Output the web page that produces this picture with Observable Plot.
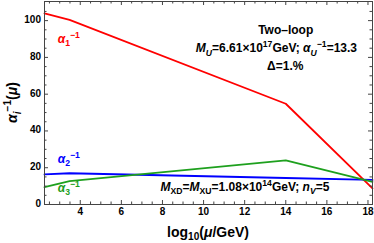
<!DOCTYPE html>
<html><head><meta charset="utf-8">
<script src="https://cdn.jsdelivr.net/npm/d3@7"></script>
<script src="https://cdn.jsdelivr.net/npm/@observablehq/plot@0.6"></script>
<style>
body{margin:0;background:#fff}
#c{position:relative;width:374px;height:243px}
svg{font-family:"Liberation Sans",Arial,sans-serif}
.ylab{position:absolute;font:bold 10px "Liberation Sans",Arial,sans-serif;color:#000;line-height:12px;text-align:right;width:30px;z-index:5}
</style>
</head><body><div id="c"></div>
<script>
// ---- data ----
const logMu     = [2.26, 3.48, 14.0, 18.22];
const alpha1Inv = [103.9, 100.4, 54.8, 8.8];
const alpha2Inv = [16.4, 17.0, 14.4, 13.4];
const alpha3Inv = [9.4, 12.7, 24.0, 12.3];
const seriesNames = ["a1", "a2", "a3"];
const seriesColors = ["#ff0000", "#0000ff", "#1ea01e"];
const xMajorTicks = [4, 6, 8, 10, 12, 14, 16, 18];
const xMinorTicks = [2.5, 3, 3.5, 4.5, 5, 5.5, 6.5, 7, 7.5, 8.5, 9, 9.5, 10.5, 11, 11.5, 12.5, 13, 13.5, 14.5, 15, 15.5, 16.5, 17, 17.5];
const yMajorTicks = [0, 20, 40, 60, 80, 100];
const yMinorTicks = [5, 10, 15, 25, 30, 35, 45, 50, 55, 65, 70, 75, 85, 90, 95, 105];

const rows = [];
[alpha1Inv, alpha2Inv, alpha3Inv].forEach((vals, i) =>
  vals.forEach((v, j) => rows.push({s: seriesNames[i], x: logMu[j], y: v})));

const W = 374, H = 243, mL = 44, mR = 2, mT = 1, mB = 39;
const innerH = H - mT - mB, innerW = W - mL - mR;
const tickCol = "#444";

const chart = Plot.plot({
  width: W, height: H,
  marginLeft: mL, marginRight: mR, marginTop: mT, marginBottom: mB,
  x: {domain: [2.26, 18.22], axis: null},
  y: {domain: [0, 110.4], axis: null},
  color: {domain: seriesNames, range: seriesColors},
  marks: [
    Plot.line(rows, {x: "x", y: "y", z: "s", stroke: "s", strokeWidth: 1.8}),
    Plot.frame({stroke: tickCol}),
    // inward ticks on all four sides
    Plot.tickX(xMajorTicks, {x: d => d, insetTop: innerH - 4, stroke: tickCol}),
    Plot.tickX(xMajorTicks, {x: d => d, insetBottom: innerH - 4, stroke: tickCol}),
    Plot.tickX(xMinorTicks, {x: d => d, insetTop: innerH - 2.5, stroke: tickCol}),
    Plot.tickX(xMinorTicks, {x: d => d, insetBottom: innerH - 2.5, stroke: tickCol}),
    Plot.tickY(yMajorTicks, {y: d => d, insetRight: innerW - 4, stroke: tickCol}),
    Plot.tickY(yMajorTicks, {y: d => d, insetLeft: innerW - 4, stroke: tickCol}),
    Plot.tickY(yMinorTicks, {y: d => d, insetRight: innerW - 2.5, stroke: tickCol}),
    Plot.tickY(yMinorTicks, {y: d => d, insetLeft: innerW - 2.5, stroke: tickCol}),
    // x tick labels
    Plot.text(xMajorTicks, {x: d => d, frameAnchor: "bottom", dy: 10, text: d => String(d), fontSize: 10, fontWeight: "bold", fill: "#000"})
  ]
});
const host = document.getElementById("c");
host.appendChild(chart);

const ns = "http://www.w3.org/2000/svg";
const sx = chart.scale("x"), sy = chart.scale("y");

// rich text: parts = [text, kind] with kind in "", "i", "sub", "sup", "isub", "isup"
function rich(px, py, parts, {size = 12, fill = "#000", anchor = "start", rotate = 0} = {}) {
  const t = document.createElementNS(ns, "text");
  t.setAttribute("x", px); t.setAttribute("y", py);
  t.setAttribute("font-size", size);
  t.setAttribute("font-weight", "bold");
  t.setAttribute("fill", fill);
  t.setAttribute("text-anchor", anchor);
  if (rotate) t.setAttribute("transform", `rotate(${rotate} ${px} ${py})`);
  let cur = 0;
  for (const [txt, kind] of parts) {
    const s = document.createElementNS(ns, "tspan");
    let off = 0, fs = size;
    if (kind.includes("sub")) { off = 0.28 * size; fs = 0.72 * size; }
    if (kind.includes("sup")) { off = -0.42 * size; fs = 0.72 * size; }
    s.setAttribute("dy", off - cur); cur = off;
    s.setAttribute("font-size", fs);
    if (kind.startsWith("i")) s.setAttribute("font-style", "italic");
    s.textContent = txt;
    t.appendChild(s);
  }
  chart.appendChild(t);
  return t;
}

// y tick labels, placed with the y scale (HTML overlay, right-aligned to the frame)
for (const v of yMajorTicks) {
  const d = document.createElement("div");
  d.className = "ylab";
  d.textContent = String(v);
  d.style.left = (mL - 3 - 30) + "px";
  d.style.top = (sy.apply(v) - 6) + "px";
  host.appendChild(d);
}

// series labels
rich(sx.apply(2.93), sy.apply(87.8), [["α", "i"], ["1", "sub"], ["−1", "sup"]], {fill: seriesColors[0], size: 12});
rich(sx.apply(2.93), sy.apply(22.4), [["α", "i"], ["2", "sub"], ["−1", "sup"]], {fill: seriesColors[1], size: 12});
rich(sx.apply(2.93), sy.apply(6.7), [["α", "i"], ["3", "sub"], ["−1", "sup"]], {fill: seriesColors[2], size: 12});

// annotations
rich(sx.apply(14.02), sy.apply(92.5), [["Two–loop", ""]], {anchor: "middle", size: 12});
rich(sx.apply(13.57), sy.apply(82.4), [["M", "i"], ["U", "isub"], ["=6.61×10", ""], ["17", "sup"], ["GeV; ", ""], ["α", "i"], ["U", "isub"], ["−1", "sup"], ["=13.3", ""]], {anchor: "middle", size: 12});
rich(sx.apply(14.0), sy.apply(72.9), [["Δ=1.%", ""]], {anchor: "middle", size: 12});
rich(sx.apply(12.04), sy.apply(7.0), [["M", "i"], ["XD", "sub"], ["=", ""], ["M", "i"], ["XU", "sub"], ["=1.08×10", ""], ["14", "sup"], ["GeV; ", ""], ["n", "i"], ["V", "isub"], ["=5", ""]], {anchor: "middle", size: 12});

// axis titles
const xr = sx.range, yr = sy.range;
rich((xr[0] + xr[1]) / 2, H - 6.5, [["log", ""], ["10", "sub"], ["(", ""], ["μ", "i"], ["/GeV)", ""]], {anchor: "middle", size: 14});
rich(17, (yr[0] + yr[1]) / 2, [["α", "i"], ["i", "isub"], ["−1", "sup"], ["(", ""], ["μ", "i"], [")", ""]], {anchor: "middle", size: 14, rotate: -90});
</script>
</body></html>
